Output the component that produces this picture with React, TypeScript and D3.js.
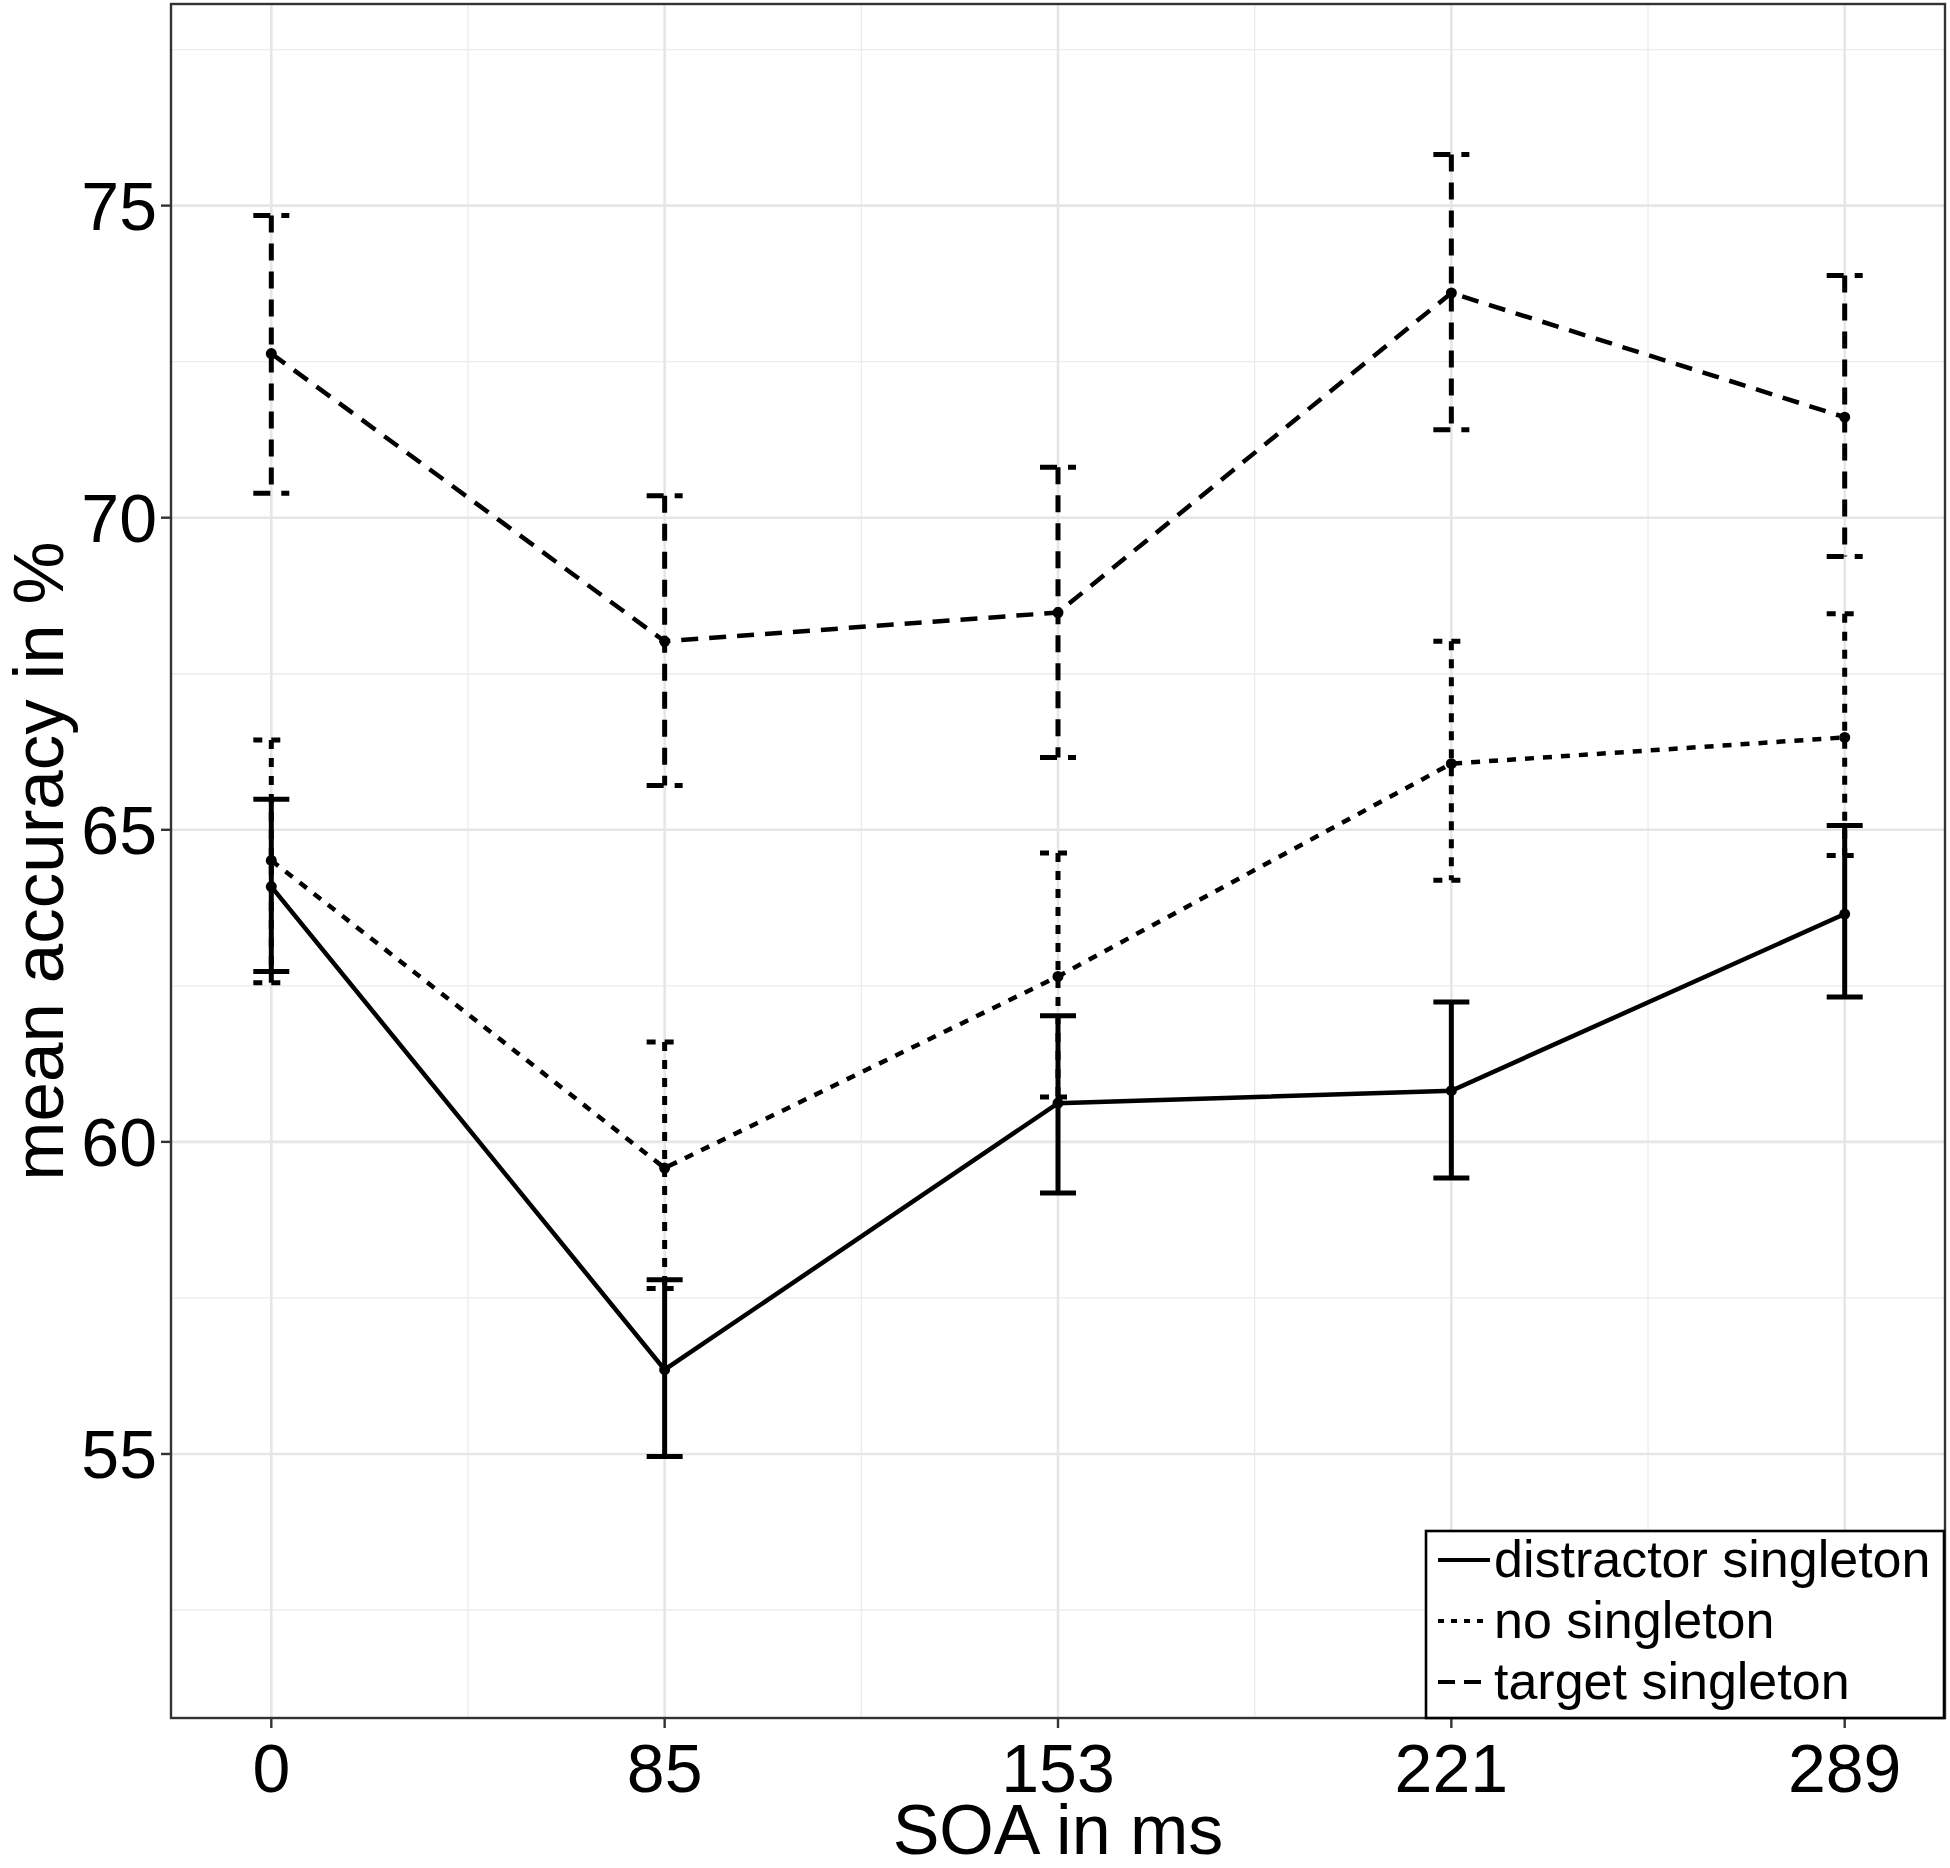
import * as d3 from "d3";

const WIDTH = 1950;
const HEIGHT = 1868;
const PANEL = { left: 171, right: 1945, top: 4, bottom: 1718 };

const soaLabels = ["0", "85", "153", "221", "289"];
const yTicks = [55, 60, 65, 70, 75];
const yMinor = [52.5, 57.5, 62.5, 67.5, 72.5, 77.5];

const seriesNames = ["distractor singleton", "no singleton", "target singleton"];

const distractorMean = [64.09, 56.35, 60.62, 60.82, 63.65];
const distractorLow = [62.73, 54.96, 59.18, 59.42, 62.32];
const distractorHigh = [65.49, 57.79, 62.02, 62.24, 65.07];

const noMean = [64.51, 59.58, 62.65, 66.06, 66.48];
const noLow = [62.55, 57.65, 60.72, 64.19, 64.59];
const noHigh = [66.44, 61.6, 64.63, 68.02, 68.46];

const targetMean = [72.63, 68.02, 68.48, 73.6, 71.61];
const targetLow = [70.39, 65.71, 66.16, 71.41, 69.38];
const targetHigh = [74.84, 70.35, 70.81, 75.82, 73.88];

const dashes = ["", "9,9", "17,11"];

const series = [
  { name: seriesNames[0], mean: distractorMean, low: distractorLow, high: distractorHigh, dash: dashes[0] },
  { name: seriesNames[1], mean: noMean, low: noLow, high: noHigh, dash: dashes[1] },
  { name: seriesNames[2], mean: targetMean, low: targetLow, high: targetHigh, dash: dashes[2] },
];

const FONT = "'Liberation Sans', Arial, sans-serif";

const App = () => {
  const xScale = d3
    .scaleLinear()
    .domain([-0.255, 4.255])
    .range([PANEL.left, PANEL.right]);
  const yScale = d3
    .scaleLinear()
    .domain([50.77, 78.23])
    .range([PANEL.bottom, PANEL.top]);

  const line = d3
    .line<number>()
    .x((_, i) => xScale(i))
    .y((d) => yScale(d));

  const capHalf = 18;

  return (
    <svg
      width={WIDTH}
      height={HEIGHT}
      style={{ position: "absolute", left: 0, top: 0, background: "white" }}
      fontFamily={FONT}
    >
      <rect x={0} y={0} width={WIDTH} height={HEIGHT} fill="white" />
      {/* grid */}
      <g>
        {yMinor.map((v) => (
          <line
            key={"ym" + v}
            x1={PANEL.left}
            x2={PANEL.right}
            y1={yScale(v)}
            y2={yScale(v)}
            stroke="#ececec"
            strokeWidth={1.3}
          />
        ))}
        {d3.range(0.5, 4, 1).map((v) => (
          <line
            key={"xm" + v}
            x1={xScale(v)}
            x2={xScale(v)}
            y1={PANEL.top}
            y2={PANEL.bottom}
            stroke="#ececec"
            strokeWidth={1.3}
          />
        ))}
        {yTicks.map((v) => (
          <line
            key={"y" + v}
            x1={PANEL.left}
            x2={PANEL.right}
            y1={yScale(v)}
            y2={yScale(v)}
            stroke="#e6e6e6"
            strokeWidth={2.6}
          />
        ))}
        {soaLabels.map((_, i) => (
          <line
            key={"x" + i}
            x1={xScale(i)}
            x2={xScale(i)}
            y1={PANEL.top}
            y2={PANEL.bottom}
            stroke="#e6e6e6"
            strokeWidth={2.6}
          />
        ))}
      </g>

      {/* error bars */}
      {series.map((s) => (
        <g key={"eb" + s.name} stroke="black" strokeWidth={5} strokeDasharray={s.dash}>
          {s.mean.map((_, i) => (
            <g key={i}>
              <line
                x1={xScale(i)}
                x2={xScale(i)}
                y1={yScale(s.high[i])}
                y2={yScale(s.low[i])}
              />
              <line
                x1={xScale(i) - capHalf}
                x2={xScale(i) + capHalf}
                y1={yScale(s.high[i])}
                y2={yScale(s.high[i])}
              />
              <line
                x1={xScale(i) - capHalf}
                x2={xScale(i) + capHalf}
                y1={yScale(s.low[i])}
                y2={yScale(s.low[i])}
              />
            </g>
          ))}
        </g>
      ))}

      {/* lines and points */}
      {series.map((s) => (
        <g key={"ln" + s.name}>
          <path
            d={line(s.mean)!}
            fill="none"
            stroke="black"
            strokeWidth={4.5}
            strokeDasharray={s.dash}
          />
          {s.mean.map((v, i) => (
            <circle key={i} cx={xScale(i)} cy={yScale(v)} r={5.5} fill="black" />
          ))}
        </g>
      ))}

      {/* panel border */}
      <rect
        x={PANEL.left}
        y={PANEL.top}
        width={PANEL.right - PANEL.left}
        height={PANEL.bottom - PANEL.top}
        fill="none"
        stroke="#333333"
        strokeWidth={2.4}
      />

      {/* y axis */}
      {yTicks.map((v) => (
        <g key={"yt" + v}>
          <line
            x1={PANEL.left - 10}
            x2={PANEL.left}
            y1={yScale(v)}
            y2={yScale(v)}
            stroke="#333333"
            strokeWidth={2.4}
          />
          <text
            x={PANEL.left - 14}
            y={yScale(v)}
            dy="0.36em"
            textAnchor="end"
            fontSize={68}
            fill="black"
          >
            {v}
          </text>
        </g>
      ))}

      {/* x axis */}
      {soaLabels.map((label, i) => (
        <g key={"xt" + label}>
          <line
            x1={xScale(i)}
            x2={xScale(i)}
            y1={PANEL.bottom}
            y2={PANEL.bottom + 10}
            stroke="#333333"
            strokeWidth={2.4}
          />
          <text
            x={xScale(i)}
            y={PANEL.bottom + 74}
            textAnchor="middle"
            fontSize={68}
            fill="black"
          >
            {label}
          </text>
        </g>
      ))}

      <text
        x={(PANEL.left + PANEL.right) / 2}
        y={1854}
        textAnchor="middle"
        fontSize={70}
        fill="black"
      >
        SOA in ms
      </text>
      <text
        transform={`translate(63, ${(PANEL.top + PANEL.bottom) / 2}) rotate(-90)`}
        textAnchor="middle"
        fontSize={71}
        fill="black"
      >
        mean accuracy in %
      </text>

      {/* legend */}
      <g>
        <rect
          x={1426}
          y={1531}
          width={518}
          height={187}
          fill="white"
          stroke="black"
          strokeWidth={2.6}
        />
        {series.map((s, i) => {
          const cy = 1560 + i * 61;
          return (
            <g key={"lg" + s.name}>
              <line
                x1={1438}
                x2={1490}
                y1={cy}
                y2={cy}
                stroke="black"
                strokeWidth={4}
                strokeDasharray={i === 1 ? "6,7" : i === 2 ? "17,9" : ""}
              />
              <text x={1494} y={cy} dy="0.33em" fontSize={52} fill="black">
                {s.name}
              </text>
            </g>
          );
        })}
      </g>
    </svg>
  );
};

export default App;
